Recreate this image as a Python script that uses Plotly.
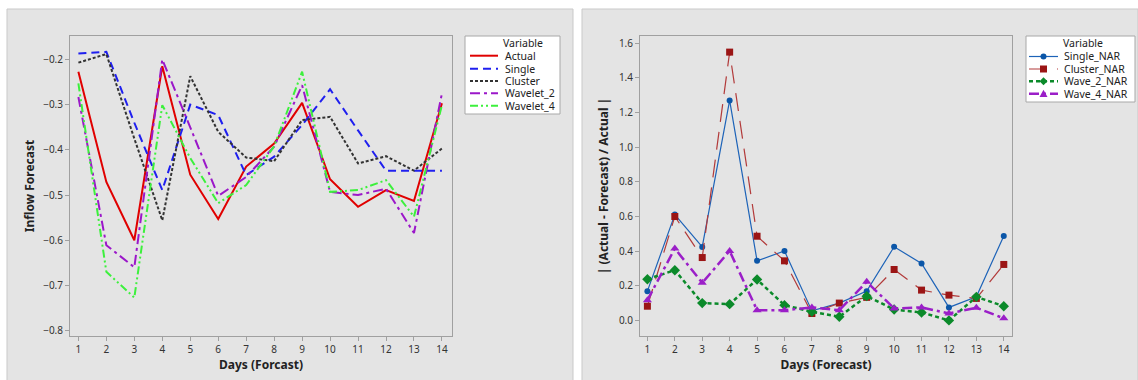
import plotly.graph_objects as go

W, H = 1138, 380

days = list(range(1, 15))

# Left chart: inflow forecast
actual = [-0.227, -0.471, -0.600, -0.215, -0.455, -0.553, -0.437, -0.386, -0.296, -0.465, -0.526, -0.489, -0.513, -0.297]
single = [-0.187, -0.183, -0.340, -0.489, -0.300, -0.323, -0.456, -0.415, -0.345, -0.266, -0.357, -0.446, -0.446, -0.446]
cluster = [-0.207, -0.188, -0.375, -0.556, -0.237, -0.360, -0.417, -0.425, -0.334, -0.327, -0.430, -0.414, -0.446, -0.397]
wavelet_2 = [-0.283, -0.611, -0.660, -0.200, -0.350, -0.502, -0.460, -0.393, -0.257, -0.493, -0.500, -0.486, -0.584, -0.275]
wavelet_4 = [-0.253, -0.670, -0.727, -0.301, -0.418, -0.518, -0.478, -0.392, -0.227, -0.493, -0.489, -0.467, -0.548, -0.301]

# Right chart: relative absolute error
single_nar = [0.169, 0.611, 0.424, 1.270, 0.344, 0.401, 0.055, 0.100, 0.169, 0.425, 0.329, 0.075, 0.136, 0.488]
cluster_nar = [0.082, 0.600, 0.363, 1.549, 0.486, 0.344, 0.040, 0.100, 0.133, 0.294, 0.175, 0.146, 0.127, 0.323]
wave_2_nar = [0.238, 0.290, 0.100, 0.094, 0.236, 0.088, 0.050, 0.021, 0.140, 0.063, 0.046, 0.000, 0.136, 0.082]
wave_4_nar = [0.117, 0.415, 0.217, 0.401, 0.059, 0.059, 0.075, 0.059, 0.223, 0.069, 0.075, 0.040, 0.073, 0.012]

left_ticks_y = [-0.8, -0.7, -0.6, -0.5, -0.4, -0.3, -0.2]
right_ticks_y = [0.0, 0.2, 0.4, 0.6, 0.8, 1.0, 1.2, 1.4, 1.6]

FONT = "Noto Sans"

def px(x):
    return x / W

def py(y):
    return 1 - y / H

fig = go.Figure()

left_series = [
    ("Actual", actual, dict(color="#e00000", width=2, dash="solid")),
    ("Single", single, dict(color="#1f1fef", width=2, dash="8px,5px")),
    ("Cluster", cluster, dict(color="#333333", width=2, dash="3px,2px")),
    ("Wavelet_2", wavelet_2, dict(color="#9b17c9", width=2, dash="10px,4px,3px,4px")),
    ("Wavelet_4", wavelet_4, dict(color="#3cf03c", width=2, dash="8px,3px,2px,3px,2px,3px")),
]
for name, vals, line in left_series:
    fig.add_trace(go.Scatter(x=days, y=vals, name=name, mode="lines", line=line,
                             xaxis="x", yaxis="y", showlegend=False))

right_series = [
    ("Single_NAR", single_nar, dict(color="#1d63b8", width=1.2, dash="solid"),
     dict(symbol="circle", size=6, color="#0b56a8")),
    ("Cluster_NAR", cluster_nar, dict(color="#b23a3a", width=1.2, dash="18px,10px"),
     dict(symbol="square", size=7, color="#9b1515")),
    ("Wave_2_NAR", wave_2_nar, dict(color="#0b8a2a", width=2.5, dash="4px,3px"),
     dict(symbol="diamond", size=8, color="#0b8a2a")),
    ("Wave_4_NAR", wave_4_nar, dict(color="#9b1fc8", width=2.5, dash="10px,4px,3px,4px"),
     dict(symbol="triangle-up", size=8, color="#9b1fc8")),
]
for name, vals, line, marker in right_series:
    fig.add_trace(go.Scatter(x=days, y=vals, name=name, mode="lines+markers", line=line,
                             marker=marker, xaxis="x2", yaxis="y2", showlegend=False))

# Gray panels
for x0, x1 in [(7, 573), (582, 1138)]:
    fig.add_shape(type="rect", xref="paper", yref="paper",
                  x0=px(x0), x1=px(x1), y0=py(382), y1=py(9),
                  fillcolor="#e4e4e4", line=dict(color="#c9c9c9", width=1), layer="below")

legfont = dict(family=FONT, size=10.5, color="#222222")

def legend_box(x0, y0, x1, y1, title_x, items, line_x0, line_x1, text_x, rows):
    fig.add_shape(type="rect", xref="paper", yref="paper",
                  x0=px(x0), x1=px(x1), y0=py(y1), y1=py(y0),
                  fillcolor="white", line=dict(color="#a8a8a8", width=1))
    fig.add_annotation(xref="paper", yref="paper", x=px(title_x), y=py(y0 + 7.5),
                       text="Variable", showarrow=False, xanchor="center", yanchor="middle",
                       font=legfont)
    for (name, line, marker), yy in zip(items, rows):
        fig.add_shape(type="line", xref="paper", yref="paper",
                      x0=px(line_x0), x1=px(line_x1), y0=py(yy), y1=py(yy),
                      line=dict(color=line["color"], width=line["width"], dash=line["dash"]))
        if marker is not None:
            cx = (line_x0 + line_x1) / 2
            s = marker["size"] / 2
            c = marker["color"]
            sym = marker["symbol"]
            if sym == "circle":
                fig.add_shape(type="circle", xref="paper", yref="paper",
                              x0=px(cx - s), x1=px(cx + s), y0=py(yy + s), y1=py(yy - s),
                              fillcolor=c, line=dict(color=c, width=0))
            elif sym == "square":
                fig.add_shape(type="rect", xref="paper", yref="paper",
                              x0=px(cx - s), x1=px(cx + s), y0=py(yy + s), y1=py(yy - s),
                              fillcolor=c, line=dict(color=c, width=0))
            elif sym == "diamond":
                p = (f"M {px(cx)},{py(yy - s)} L {px(cx + s)},{py(yy)} "
                     f"L {px(cx)},{py(yy + s)} L {px(cx - s)},{py(yy)} Z")
                fig.add_shape(type="path", xref="paper", yref="paper", path=p,
                              fillcolor=c, line=dict(color=c, width=0))
            else:
                p = (f"M {px(cx)},{py(yy - s)} L {px(cx + s)},{py(yy + s * 0.8)} "
                     f"L {px(cx - s)},{py(yy + s * 0.8)} Z")
                fig.add_shape(type="path", xref="paper", yref="paper", path=p,
                              fillcolor=c, line=dict(color=c, width=0))
        fig.add_annotation(xref="paper", yref="paper", x=px(text_x), y=py(yy),
                           text=name, showarrow=False, xanchor="left", yanchor="middle",
                           font=legfont)

legend_box(465, 36, 560, 114, 523,
           [(n, l, None) for n, _, l in left_series],
           470, 498, 503, [55.7, 68.7, 81.0, 93.3, 105.8])
legend_box(1026, 36, 1135, 102, 1083,
           [(n, l, m) for n, _, l, m in right_series],
           1029, 1058, 1062, [56.5, 69.0, 81.3, 93.8])

tickfont = dict(family=FONT, size=10, color="#333333")
titlefont = dict(family=FONT, size=12, color="#222222", weight="bold")

axis_common = dict(showline=True, linecolor="#a0a0a0", linewidth=1, mirror=True,
                   ticks="outside", ticklen=4, tickcolor="#a0a0a0", showgrid=False,
                   zeroline=False, tickfont=tickfont)

fig.update_layout(
    width=W, height=H,
    margin=dict(l=0, r=0, t=0, b=0),
    paper_bgcolor="white",
    plot_bgcolor="white",
    showlegend=False,
    font=dict(family=FONT, size=11, color="#222222"),
    xaxis=dict(domain=[px(70), px(452)], range=[0.70, 14.36], tickvals=days,
               title=dict(text="Days (Forcast)", font=titlefont, standoff=3),
               anchor="y", **axis_common),
    yaxis=dict(domain=[py(336), py(36)], range=[-0.812, -0.148], tickvals=left_ticks_y,
               tickformat=".1f",
               title=dict(text="Inflow Forecast", font=titlefont, standoff=5),
               anchor="x", **axis_common),
    xaxis2=dict(domain=[px(640), px(1012)], range=[0.73, 14.30], tickvals=days,
                title=dict(text="Days (Forecast)", font=titlefont, standoff=3),
                anchor="y2", **axis_common),
    yaxis2=dict(domain=[py(336), py(36)], range=[-0.09, 1.642], tickvals=right_ticks_y,
                tickformat=".1f",
                title=dict(text="| (Actual - Forecast) / Actual |", font=titlefont, standoff=7),
                anchor="x2", **axis_common),
)

fig.write_html("out.html", config={"displayModeBar": False},
               post_script="document.body.style.margin='0';document.body.style.overflow='hidden';")
